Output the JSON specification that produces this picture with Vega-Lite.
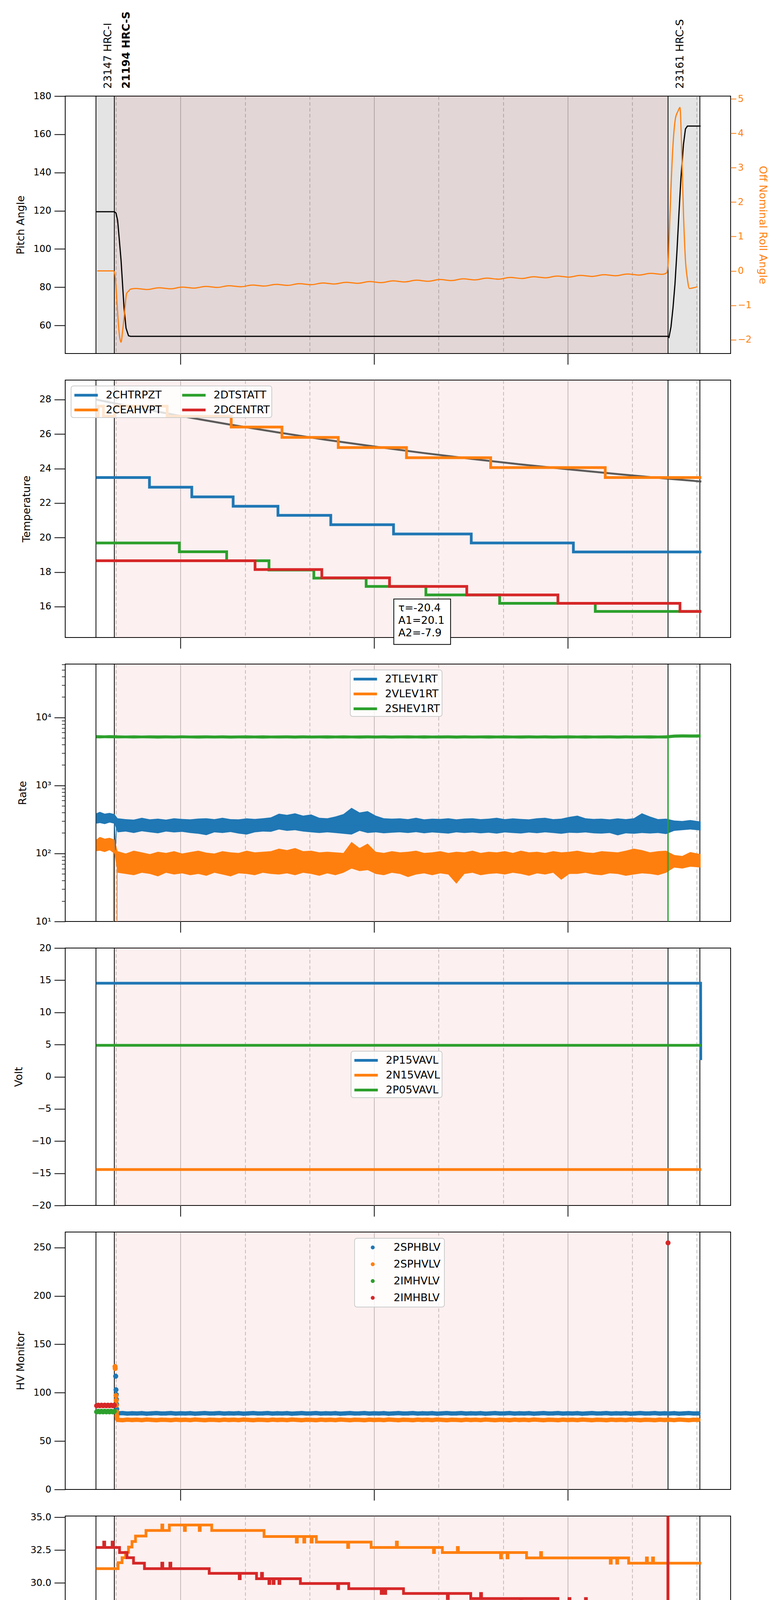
{
  "$schema": "https://vega.github.io/schema/vega-lite/v6.json",
  "padding": {"left": 30, "top": 28, "right": 5, "bottom": 5},
  "spacing": 68,
  "bounds": "flush",
  "resolve": {"scale": {"color": "independent"}, "legend": {"color": "independent"}},
  "datasets": {
    "spans": [
      {"t": 15.379, "t2": 34.097, "kind": "window"},
      {"t": 15.948, "t2": 33.11, "kind": "obs"}
    ],
    "obs": [
      {"t": 15.379, "label": "23147 HRC-I"},
      {"t": 15.948, "label": "21194 HRC-S"},
      {"t": 33.11, "label": "23161 HRC-S"},
      {"t": 34.097, "label": ""}
    ],
    "pitch": [
      {"t": 15.38, "v": 119.5}, {"t": 15.95, "v": 119.5}, {"t": 16.0, "v": 118.8}, {"t": 16.05, "v": 115},
      {"t": 16.095, "v": 106.4}, {"t": 16.157, "v": 94}, {"t": 16.203, "v": 81.6}, {"t": 16.249, "v": 69.2},
      {"t": 16.311, "v": 58.6}, {"t": 16.388, "v": 54.6}, {"t": 16.45, "v": 54.3}, {"t": 33.11, "v": 54.3},
      {"t": 33.14, "v": 53.8}, {"t": 33.202, "v": 59.3}, {"t": 33.264, "v": 69.2}, {"t": 33.325, "v": 81.6},
      {"t": 33.387, "v": 98.9}, {"t": 33.449, "v": 118.8}, {"t": 33.511, "v": 137.4}, {"t": 33.588, "v": 154.7},
      {"t": 33.65, "v": 162.8}, {"t": 33.711, "v": 164.3}, {"t": 34.12, "v": 164.3}
    ],
    "roll": [
      {"t": 15.416, "v": 0.0}, {"t": 15.925, "v": 0.0}, {"t": 15.972, "v": -0.14}, {"t": 16.018, "v": -0.73},
      {"t": 16.064, "v": -1.41}, {"t": 16.11, "v": -1.9}, {"t": 16.157, "v": -2.07}, {"t": 16.203, "v": -1.76},
      {"t": 16.265, "v": -1.21}, {"t": 16.327, "v": -0.66}, {"t": 16.388, "v": -0.59}, {"t": 16.45, "v": -0.53},
      {"t": 16.6, "v": -0.51}, {"t": 16.96, "v": -0.54}, {"t": 17.33, "v": -0.49}, {"t": 17.69, "v": -0.52},
      {"t": 18.05, "v": -0.47}, {"t": 18.42, "v": -0.5}, {"t": 18.78, "v": -0.45}, {"t": 19.14, "v": -0.48},
      {"t": 19.5, "v": -0.43}, {"t": 19.87, "v": -0.46}, {"t": 20.23, "v": -0.41}, {"t": 20.59, "v": -0.44},
      {"t": 20.96, "v": -0.39}, {"t": 21.32, "v": -0.42}, {"t": 21.68, "v": -0.37}, {"t": 22.05, "v": -0.4},
      {"t": 22.41, "v": -0.35}, {"t": 22.77, "v": -0.38}, {"t": 23.13, "v": -0.33}, {"t": 23.5, "v": -0.36},
      {"t": 23.86, "v": -0.31}, {"t": 24.22, "v": -0.34}, {"t": 24.59, "v": -0.29}, {"t": 24.95, "v": -0.32},
      {"t": 25.31, "v": -0.27}, {"t": 25.68, "v": -0.3}, {"t": 26.04, "v": -0.25}, {"t": 26.4, "v": -0.28},
      {"t": 26.76, "v": -0.23}, {"t": 27.13, "v": -0.26}, {"t": 27.49, "v": -0.21}, {"t": 27.85, "v": -0.24},
      {"t": 28.22, "v": -0.19}, {"t": 28.58, "v": -0.22}, {"t": 28.94, "v": -0.17}, {"t": 29.31, "v": -0.2},
      {"t": 29.67, "v": -0.15}, {"t": 30.03, "v": -0.18}, {"t": 30.39, "v": -0.13}, {"t": 30.76, "v": -0.16},
      {"t": 31.12, "v": -0.11}, {"t": 31.48, "v": -0.14}, {"t": 31.85, "v": -0.09}, {"t": 32.21, "v": -0.12},
      {"t": 32.57, "v": -0.07}, {"t": 32.93, "v": -0.1}, {"t": 33.063, "v": -0.06}, {"t": 33.109, "v": 0.17},
      {"t": 33.171, "v": 1.68}, {"t": 33.248, "v": 3.4}, {"t": 33.341, "v": 4.44}, {"t": 33.418, "v": 4.64},
      {"t": 33.48, "v": 4.75}, {"t": 33.526, "v": 3.75}, {"t": 33.588, "v": 1.68}, {"t": 33.65, "v": 0.31},
      {"t": 33.711, "v": -0.24}, {"t": 33.773, "v": -0.51}, {"t": 33.897, "v": -0.49}, {"t": 34.02, "v": -0.46}
    ],
    "temp": [
      {"s": "2CHTRPZT", "t": 15.385, "v": 23.48}, {"s": "2CHTRPZT", "t": 17.037, "v": 22.92}, {"s": "2CHTRPZT", "t": 18.349, "v": 22.36},
      {"s": "2CHTRPZT", "t": 19.631, "v": 21.82}, {"s": "2CHTRPZT", "t": 21.02, "v": 21.29}, {"s": "2CHTRPZT", "t": 22.657, "v": 20.75},
      {"s": "2CHTRPZT", "t": 24.602, "v": 20.21}, {"s": "2CHTRPZT", "t": 27.011, "v": 19.69}, {"s": "2CHTRPZT", "t": 30.176, "v": 19.17},
      {"s": "2CHTRPZT", "t": 34.143, "v": 19.17},
      {"s": "2CEAHVPT", "t": 15.385, "v": 27.03}, {"s": "2CEAHVPT", "t": 15.448, "v": 27.62}, {"s": "2CEAHVPT", "t": 15.61, "v": 27.03},
      {"s": "2CEAHVPT", "t": 15.958, "v": 27.62}, {"s": "2CEAHVPT", "t": 17.586, "v": 27.03}, {"s": "2CEAHVPT", "t": 19.571, "v": 26.41},
      {"s": "2CEAHVPT", "t": 21.144, "v": 25.81}, {"s": "2CEAHVPT", "t": 22.888, "v": 25.22}, {"s": "2CEAHVPT", "t": 25.003, "v": 24.63},
      {"s": "2CEAHVPT", "t": 27.613, "v": 24.06}, {"s": "2CEAHVPT", "t": 31.164, "v": 23.48}, {"s": "2CEAHVPT", "t": 34.143, "v": 23.48},
      {"s": "2DTSTATT", "t": 15.385, "v": 19.69}, {"s": "2DTSTATT", "t": 17.963, "v": 19.18}, {"s": "2DTSTATT", "t": 19.43, "v": 18.66},
      {"s": "2DTSTATT", "t": 20.742, "v": 18.12}, {"s": "2DTSTATT", "t": 22.132, "v": 17.65}, {"s": "2DTSTATT", "t": 23.753, "v": 17.17},
      {"s": "2DTSTATT", "t": 25.605, "v": 16.68}, {"s": "2DTSTATT", "t": 27.891, "v": 16.19}, {"s": "2DTSTATT", "t": 30.855, "v": 15.72},
      {"s": "2DTSTATT", "t": 34.143, "v": 15.72},
      {"s": "2DCENTRT", "t": 15.385, "v": 18.66}, {"s": "2DCENTRT", "t": 20.31, "v": 18.15}, {"s": "2DCENTRT", "t": 22.379, "v": 17.67},
      {"s": "2DCENTRT", "t": 24.478, "v": 17.17}, {"s": "2DCENTRT", "t": 26.872, "v": 16.68}, {"s": "2DCENTRT", "t": 29.697, "v": 16.19},
      {"s": "2DCENTRT", "t": 33.48, "v": 15.72}, {"s": "2DCENTRT", "t": 34.143, "v": 15.72}
    ],
    "fit": [
      {"t": 15.385, "v": 28.0}, {"t": 16.5, "v": 27.58}, {"t": 18.0, "v": 27.05}, {"t": 19.5, "v": 26.56},
      {"t": 21.0, "v": 26.1}, {"t": 22.5, "v": 25.67}, {"t": 24.0, "v": 25.28}, {"t": 25.5, "v": 24.91},
      {"t": 27.0, "v": 24.57}, {"t": 28.5, "v": 24.25}, {"t": 30.0, "v": 23.96}, {"t": 31.5, "v": 23.69},
      {"t": 33.0, "v": 23.43}, {"t": 34.143, "v": 23.25}
    ],
    "annbox": [{"t": 24.61, "t2": 26.37, "v": 16.44, "v2": 13.81}],
    "anntext": [{"t": 24.75, "v": 15.9, "label": ["τ=-20.4", "A1=20.1", "A2=-7.9"]}],
    "rate_band": [
      {"t": 15.39, "blo": 275, "bhi": 390, "olo": 108, "ohi": 160, "glo": 4950, "ghi": 5500},
      {"t": 15.5, "blo": 280, "bhi": 410, "olo": 110, "ohi": 175, "glo": 4930, "ghi": 5480},
      {"t": 15.65, "blo": 270, "bhi": 385, "olo": 105, "ohi": 165, "glo": 4960, "ghi": 5460},
      {"t": 15.8, "blo": 285, "bhi": 395, "olo": 112, "ohi": 170, "glo": 4940, "ghi": 5490},
      {"t": 15.95, "blo": 275, "bhi": 380, "olo": 100, "ohi": 160, "glo": 4950, "ghi": 5470},
      {"t": 16.05, "blo": 205, "bhi": 330, "olo": 52, "ohi": 108, "glo": 4920, "ghi": 5450},
      {"t": 16.3, "blo": 210, "bhi": 320, "olo": 50, "ohi": 100, "glo": 4950, "ghi": 5430},
      {"t": 16.55, "blo": 200, "bhi": 315, "olo": 48, "ohi": 110, "glo": 4910, "ghi": 5460},
      {"t": 16.8, "blo": 212, "bhi": 335, "olo": 52, "ohi": 104, "glo": 4940, "ghi": 5420},
      {"t": 17.05, "blo": 205, "bhi": 318, "olo": 50, "ohi": 98, "glo": 4920, "ghi": 5450},
      {"t": 17.3, "blo": 198, "bhi": 325, "olo": 46, "ohi": 106, "glo": 4900, "ghi": 5440},
      {"t": 17.55, "blo": 210, "bhi": 315, "olo": 52, "ohi": 102, "glo": 4930, "ghi": 5460},
      {"t": 17.8, "blo": 204, "bhi": 330, "olo": 49, "ohi": 108, "glo": 4910, "ghi": 5430},
      {"t": 18.05, "blo": 208, "bhi": 322, "olo": 51, "ohi": 100, "glo": 4940, "ghi": 5450},
      {"t": 18.3, "blo": 200, "bhi": 318, "olo": 48, "ohi": 105, "glo": 4920, "ghi": 5420},
      {"t": 18.55, "blo": 195, "bhi": 326, "olo": 50, "ohi": 110, "glo": 4900, "ghi": 5440},
      {"t": 18.8, "blo": 186, "bhi": 330, "olo": 47, "ohi": 103, "glo": 4930, "ghi": 5460},
      {"t": 19.05, "blo": 205, "bhi": 320, "olo": 52, "ohi": 100, "glo": 4910, "ghi": 5430},
      {"t": 19.3, "blo": 200, "bhi": 335, "olo": 49, "ohi": 108, "glo": 4920, "ghi": 5450},
      {"t": 19.55, "blo": 207, "bhi": 320, "olo": 46, "ohi": 104, "glo": 4900, "ghi": 5420},
      {"t": 19.8, "blo": 196, "bhi": 318, "olo": 51, "ohi": 102, "glo": 4930, "ghi": 5440},
      {"t": 20.05, "blo": 190, "bhi": 328, "olo": 50, "ohi": 110, "glo": 4910, "ghi": 5460},
      {"t": 20.3, "blo": 205, "bhi": 322, "olo": 48, "ohi": 104, "glo": 4920, "ghi": 5430},
      {"t": 20.55, "blo": 210, "bhi": 330, "olo": 52, "ohi": 106, "glo": 4900, "ghi": 5450},
      {"t": 20.8, "blo": 208, "bhi": 340, "olo": 50, "ohi": 108, "glo": 4930, "ghi": 5420},
      {"t": 21.05, "blo": 225, "bhi": 385, "olo": 49, "ohi": 118, "glo": 4910, "ghi": 5440},
      {"t": 21.3, "blo": 215, "bhi": 370, "olo": 51, "ohi": 112, "glo": 4920, "ghi": 5460},
      {"t": 21.55, "blo": 220, "bhi": 390, "olo": 48, "ohi": 120, "glo": 4900, "ghi": 5430},
      {"t": 21.8, "blo": 210, "bhi": 360, "olo": 52, "ohi": 108, "glo": 4930, "ghi": 5450},
      {"t": 22.05, "blo": 205, "bhi": 375, "olo": 50, "ohi": 110, "glo": 4910, "ghi": 5420},
      {"t": 22.3, "blo": 200, "bhi": 335, "olo": 47, "ohi": 104, "glo": 4920, "ghi": 5440},
      {"t": 22.55, "blo": 205, "bhi": 330, "olo": 51, "ohi": 106, "glo": 4900, "ghi": 5460},
      {"t": 22.8, "blo": 200, "bhi": 350, "olo": 48, "ohi": 104, "glo": 4930, "ghi": 5430},
      {"t": 23.05, "blo": 195, "bhi": 380, "olo": 52, "ohi": 102, "glo": 4910, "ghi": 5450},
      {"t": 23.3, "blo": 190, "bhi": 470, "olo": 60, "ohi": 148, "glo": 4920, "ghi": 5420},
      {"t": 23.55, "blo": 215, "bhi": 400, "olo": 55, "ohi": 120, "glo": 4900, "ghi": 5440},
      {"t": 23.8, "blo": 200, "bhi": 420, "olo": 57, "ohi": 140, "glo": 4930, "ghi": 5460},
      {"t": 24.05, "blo": 205, "bhi": 360, "olo": 50, "ohi": 106, "glo": 4910, "ghi": 5430},
      {"t": 24.3, "blo": 198, "bhi": 330, "olo": 48, "ohi": 102, "glo": 4920, "ghi": 5450},
      {"t": 24.55, "blo": 202, "bhi": 325, "olo": 52, "ohi": 108, "glo": 4900, "ghi": 5420},
      {"t": 24.8, "blo": 205, "bhi": 328, "olo": 50, "ohi": 104, "glo": 4930, "ghi": 5440},
      {"t": 25.05, "blo": 200, "bhi": 320, "olo": 45, "ohi": 106, "glo": 4910, "ghi": 5460},
      {"t": 25.3, "blo": 206, "bhi": 335, "olo": 49, "ohi": 110, "glo": 4920, "ghi": 5430},
      {"t": 25.55, "blo": 198, "bhi": 318, "olo": 51, "ohi": 102, "glo": 4900, "ghi": 5450},
      {"t": 25.8, "blo": 204, "bhi": 325, "olo": 48, "ohi": 104, "glo": 4930, "ghi": 5420},
      {"t": 26.05, "blo": 200, "bhi": 322, "olo": 51, "ohi": 108, "glo": 4910, "ghi": 5440},
      {"t": 26.3, "blo": 196, "bhi": 330, "olo": 49, "ohi": 102, "glo": 4920, "ghi": 5460},
      {"t": 26.55, "blo": 205, "bhi": 318, "olo": 36, "ohi": 106, "glo": 4900, "ghi": 5430},
      {"t": 26.8, "blo": 200, "bhi": 326, "olo": 50, "ohi": 104, "glo": 4930, "ghi": 5450},
      {"t": 27.05, "blo": 203, "bhi": 330, "olo": 52, "ohi": 110, "glo": 4910, "ghi": 5420},
      {"t": 27.3, "blo": 198, "bhi": 320, "olo": 48, "ohi": 102, "glo": 4920, "ghi": 5440},
      {"t": 27.55, "blo": 202, "bhi": 325, "olo": 50, "ohi": 106, "glo": 4900, "ghi": 5460},
      {"t": 27.8, "blo": 196, "bhi": 335, "olo": 51, "ohi": 104, "glo": 4930, "ghi": 5430},
      {"t": 28.05, "blo": 204, "bhi": 320, "olo": 49, "ohi": 108, "glo": 4910, "ghi": 5450},
      {"t": 28.3, "blo": 200, "bhi": 328, "olo": 52, "ohi": 102, "glo": 4920, "ghi": 5420},
      {"t": 28.55, "blo": 197, "bhi": 322, "olo": 50, "ohi": 110, "glo": 4900, "ghi": 5440},
      {"t": 28.8, "blo": 203, "bhi": 318, "olo": 47, "ohi": 104, "glo": 4930, "ghi": 5460},
      {"t": 29.05, "blo": 199, "bhi": 330, "olo": 51, "ohi": 106, "glo": 4910, "ghi": 5430},
      {"t": 29.3, "blo": 205, "bhi": 335, "olo": 49, "ohi": 102, "glo": 4920, "ghi": 5450},
      {"t": 29.55, "blo": 200, "bhi": 320, "olo": 52, "ohi": 108, "glo": 4900, "ghi": 5420},
      {"t": 29.8, "blo": 195, "bhi": 325, "olo": 41, "ohi": 104, "glo": 4930, "ghi": 5440},
      {"t": 30.05, "blo": 202, "bhi": 345, "olo": 50, "ohi": 106, "glo": 4910, "ghi": 5460},
      {"t": 30.3, "blo": 200, "bhi": 360, "olo": 50, "ohi": 110, "glo": 4920, "ghi": 5430},
      {"t": 30.55, "blo": 204, "bhi": 330, "olo": 52, "ohi": 104, "glo": 4900, "ghi": 5450},
      {"t": 30.8, "blo": 198, "bhi": 322, "olo": 49, "ohi": 102, "glo": 4930, "ghi": 5420},
      {"t": 31.05, "blo": 196, "bhi": 325, "olo": 48, "ohi": 108, "glo": 4910, "ghi": 5440},
      {"t": 31.3, "blo": 200, "bhi": 318, "olo": 51, "ohi": 106, "glo": 4920, "ghi": 5460},
      {"t": 31.55, "blo": 185, "bhi": 328, "olo": 50, "ohi": 104, "glo": 4900, "ghi": 5430},
      {"t": 31.8, "blo": 198, "bhi": 320, "olo": 47, "ohi": 110, "glo": 4930, "ghi": 5450},
      {"t": 32.05, "blo": 195, "bhi": 330, "olo": 49, "ohi": 118, "glo": 4910, "ghi": 5420},
      {"t": 32.3, "blo": 200, "bhi": 390, "olo": 51, "ohi": 112, "glo": 4920, "ghi": 5440},
      {"t": 32.55, "blo": 197, "bhi": 350, "olo": 50, "ohi": 104, "glo": 4900, "ghi": 5460},
      {"t": 32.8, "blo": 200, "bhi": 320, "olo": 48, "ohi": 108, "glo": 4930, "ghi": 5430},
      {"t": 33.05, "blo": 193, "bhi": 325, "olo": 52, "ohi": 110, "glo": 4910, "ghi": 5450},
      {"t": 33.3, "blo": 215, "bhi": 305, "olo": 62, "ohi": 95, "glo": 5050, "ghi": 5600},
      {"t": 33.55, "blo": 220, "bhi": 300, "olo": 60, "ohi": 92, "glo": 5080, "ghi": 5650},
      {"t": 33.8, "blo": 225, "bhi": 310, "olo": 64, "ohi": 105, "glo": 5060, "ghi": 5620},
      {"t": 34.12, "blo": 218, "bhi": 295, "olo": 62, "ohi": 98, "glo": 5070, "ghi": 5640}
    ],
    "rate_mid": [
      {"s": "2TLEV1RT", "t": 15.39, "v": 330}, {"s": "2TLEV1RT", "t": 15.95, "v": 330}, {"s": "2TLEV1RT", "t": 15.98, "v": 112},
      {"s": "2TLEV1RT", "t": 16.02, "v": 260}, {"s": "2TLEV1RT", "t": 34.12, "v": 255},
      {"s": "2VLEV1RT", "t": 15.39, "v": 135}, {"s": "2VLEV1RT", "t": 15.92, "v": 130}, {"s": "2VLEV1RT", "t": 15.925, "v": 1},
      {"s": "2VLEV1RT", "t": 16.03, "v": 1}, {"s": "2VLEV1RT", "t": 16.035, "v": 75}, {"s": "2VLEV1RT", "t": 34.12, "v": 80},
      {"s": "2SHEV1RT", "t": 15.39, "v": 5200}, {"s": "2SHEV1RT", "t": 33.1, "v": 5180}, {"s": "2SHEV1RT", "t": 33.105, "v": 1},
      {"s": "2SHEV1RT", "t": 33.115, "v": 1}, {"s": "2SHEV1RT", "t": 33.12, "v": 5300}, {"s": "2SHEV1RT", "t": 34.12, "v": 5300}
    ],
    "volt": [
      {"s": "2P15VAVL", "t": 15.385, "v": 14.54}, {"s": "2P15VAVL", "t": 34.12, "v": 14.54}, {"s": "2P15VAVL", "t": 34.125, "v": 2.6},
      {"s": "2N15VAVL", "t": 15.385, "v": -14.42}, {"s": "2N15VAVL", "t": 34.143, "v": -14.42},
      {"s": "2P05VAVL", "t": 15.385, "v": 4.88}, {"s": "2P05VAVL", "t": 34.143, "v": 4.88}
    ],
    "hv_main": [
      {"t": 16.05, "2SPHBLV": 78.6, "2SPHVLV": 71.9}, {"t": 16.2, "2SPHBLV": 78.9, "2SPHVLV": 71.6}, {"t": 16.35, "2SPHBLV": 78.4, "2SPHVLV": 72.1},
      {"t": 16.5, "2SPHBLV": 78.7, "2SPHVLV": 71.8}, {"t": 16.65, "2SPHBLV": 78.5, "2SPHVLV": 72.0}, {"t": 16.8, "2SPHBLV": 78.8, "2SPHVLV": 71.7},
      {"t": 16.95, "2SPHBLV": 78.3, "2SPHVLV": 72.2}, {"t": 17.1, "2SPHBLV": 78.6, "2SPHVLV": 71.9}, {"t": 17.25, "2SPHBLV": 78.9, "2SPHVLV": 71.6},
      {"t": 17.4, "2SPHBLV": 78.5, "2SPHVLV": 72.0}, {"t": 17.55, "2SPHBLV": 78.6, "2SPHVLV": 71.9}, {"t": 17.7, "2SPHBLV": 78.9, "2SPHVLV": 71.6},
      {"t": 17.85, "2SPHBLV": 78.4, "2SPHVLV": 72.1}, {"t": 18.0, "2SPHBLV": 78.7, "2SPHVLV": 71.8}, {"t": 18.15, "2SPHBLV": 78.5, "2SPHVLV": 72.0},
      {"t": 18.3, "2SPHBLV": 78.8, "2SPHVLV": 71.7}, {"t": 18.45, "2SPHBLV": 78.3, "2SPHVLV": 72.2}, {"t": 18.6, "2SPHBLV": 78.6, "2SPHVLV": 71.9},
      {"t": 18.75, "2SPHBLV": 78.9, "2SPHVLV": 71.6}, {"t": 18.9, "2SPHBLV": 78.5, "2SPHVLV": 72.0}, {"t": 19.05, "2SPHBLV": 78.6, "2SPHVLV": 71.9},
      {"t": 19.2, "2SPHBLV": 78.9, "2SPHVLV": 71.6}, {"t": 19.35, "2SPHBLV": 78.4, "2SPHVLV": 72.1}, {"t": 19.5, "2SPHBLV": 78.7, "2SPHVLV": 71.8},
      {"t": 19.65, "2SPHBLV": 78.5, "2SPHVLV": 72.0}, {"t": 19.8, "2SPHBLV": 78.8, "2SPHVLV": 71.7}, {"t": 19.95, "2SPHBLV": 78.3, "2SPHVLV": 72.2},
      {"t": 20.1, "2SPHBLV": 78.6, "2SPHVLV": 71.9}, {"t": 20.25, "2SPHBLV": 78.9, "2SPHVLV": 71.6}, {"t": 20.4, "2SPHBLV": 78.5, "2SPHVLV": 72.0},
      {"t": 20.55, "2SPHBLV": 78.6, "2SPHVLV": 71.9}, {"t": 20.7, "2SPHBLV": 78.9, "2SPHVLV": 71.6}, {"t": 20.85, "2SPHBLV": 78.4, "2SPHVLV": 72.1},
      {"t": 21.0, "2SPHBLV": 78.7, "2SPHVLV": 71.8}, {"t": 21.15, "2SPHBLV": 78.5, "2SPHVLV": 72.0}, {"t": 21.3, "2SPHBLV": 78.8, "2SPHVLV": 71.7},
      {"t": 21.45, "2SPHBLV": 78.3, "2SPHVLV": 72.2}, {"t": 21.6, "2SPHBLV": 78.6, "2SPHVLV": 71.9}, {"t": 21.75, "2SPHBLV": 78.9, "2SPHVLV": 71.6},
      {"t": 21.9, "2SPHBLV": 78.5, "2SPHVLV": 72.0}, {"t": 22.05, "2SPHBLV": 78.6, "2SPHVLV": 71.9}, {"t": 22.2, "2SPHBLV": 78.9, "2SPHVLV": 71.6},
      {"t": 22.35, "2SPHBLV": 78.4, "2SPHVLV": 72.1}, {"t": 22.5, "2SPHBLV": 78.7, "2SPHVLV": 71.8}, {"t": 22.65, "2SPHBLV": 78.5, "2SPHVLV": 72.0},
      {"t": 22.8, "2SPHBLV": 78.8, "2SPHVLV": 71.7}, {"t": 22.95, "2SPHBLV": 78.3, "2SPHVLV": 72.2}, {"t": 23.1, "2SPHBLV": 78.6, "2SPHVLV": 71.9},
      {"t": 23.25, "2SPHBLV": 78.9, "2SPHVLV": 71.6}, {"t": 23.4, "2SPHBLV": 78.5, "2SPHVLV": 72.0}, {"t": 23.55, "2SPHBLV": 78.6, "2SPHVLV": 71.9},
      {"t": 23.7, "2SPHBLV": 78.9, "2SPHVLV": 71.6}, {"t": 23.85, "2SPHBLV": 78.4, "2SPHVLV": 72.1}, {"t": 24.0, "2SPHBLV": 78.7, "2SPHVLV": 71.8},
      {"t": 24.15, "2SPHBLV": 78.5, "2SPHVLV": 72.0}, {"t": 24.3, "2SPHBLV": 78.8, "2SPHVLV": 71.7}, {"t": 24.45, "2SPHBLV": 78.3, "2SPHVLV": 72.2},
      {"t": 24.6, "2SPHBLV": 78.6, "2SPHVLV": 71.9}, {"t": 24.75, "2SPHBLV": 78.9, "2SPHVLV": 71.6}, {"t": 24.9, "2SPHBLV": 78.5, "2SPHVLV": 72.0},
      {"t": 25.05, "2SPHBLV": 78.6, "2SPHVLV": 71.9}, {"t": 25.2, "2SPHBLV": 78.9, "2SPHVLV": 71.6}, {"t": 25.35, "2SPHBLV": 78.4, "2SPHVLV": 72.1},
      {"t": 25.5, "2SPHBLV": 78.7, "2SPHVLV": 71.8}, {"t": 25.65, "2SPHBLV": 78.5, "2SPHVLV": 72.0}, {"t": 25.8, "2SPHBLV": 78.8, "2SPHVLV": 71.7},
      {"t": 25.95, "2SPHBLV": 78.3, "2SPHVLV": 72.2}, {"t": 26.1, "2SPHBLV": 78.6, "2SPHVLV": 71.9}, {"t": 26.25, "2SPHBLV": 78.9, "2SPHVLV": 71.6},
      {"t": 26.4, "2SPHBLV": 78.5, "2SPHVLV": 72.0}, {"t": 26.55, "2SPHBLV": 78.6, "2SPHVLV": 71.9}, {"t": 26.7, "2SPHBLV": 78.9, "2SPHVLV": 71.6},
      {"t": 26.85, "2SPHBLV": 78.4, "2SPHVLV": 72.1}, {"t": 27.0, "2SPHBLV": 78.7, "2SPHVLV": 71.8}, {"t": 27.15, "2SPHBLV": 78.5, "2SPHVLV": 72.0},
      {"t": 27.3, "2SPHBLV": 78.8, "2SPHVLV": 71.7}, {"t": 27.45, "2SPHBLV": 78.3, "2SPHVLV": 72.2}, {"t": 27.6, "2SPHBLV": 78.6, "2SPHVLV": 71.9},
      {"t": 27.75, "2SPHBLV": 78.9, "2SPHVLV": 71.6}, {"t": 27.9, "2SPHBLV": 78.5, "2SPHVLV": 72.0}, {"t": 28.05, "2SPHBLV": 78.6, "2SPHVLV": 71.9},
      {"t": 28.2, "2SPHBLV": 78.9, "2SPHVLV": 71.6}, {"t": 28.35, "2SPHBLV": 78.4, "2SPHVLV": 72.1}, {"t": 28.5, "2SPHBLV": 78.7, "2SPHVLV": 71.8},
      {"t": 28.65, "2SPHBLV": 78.5, "2SPHVLV": 72.0}, {"t": 28.8, "2SPHBLV": 78.8, "2SPHVLV": 71.7}, {"t": 28.95, "2SPHBLV": 78.3, "2SPHVLV": 72.2},
      {"t": 29.1, "2SPHBLV": 78.6, "2SPHVLV": 71.9}, {"t": 29.25, "2SPHBLV": 78.9, "2SPHVLV": 71.6}, {"t": 29.4, "2SPHBLV": 78.5, "2SPHVLV": 72.0},
      {"t": 29.55, "2SPHBLV": 78.6, "2SPHVLV": 71.9}, {"t": 29.7, "2SPHBLV": 78.9, "2SPHVLV": 71.6}, {"t": 29.85, "2SPHBLV": 78.4, "2SPHVLV": 72.1},
      {"t": 30.0, "2SPHBLV": 78.7, "2SPHVLV": 71.8}, {"t": 30.15, "2SPHBLV": 78.5, "2SPHVLV": 72.0}, {"t": 30.3, "2SPHBLV": 78.8, "2SPHVLV": 71.7},
      {"t": 30.45, "2SPHBLV": 78.3, "2SPHVLV": 72.2}, {"t": 30.6, "2SPHBLV": 78.6, "2SPHVLV": 71.9}, {"t": 30.75, "2SPHBLV": 78.9, "2SPHVLV": 71.6},
      {"t": 30.9, "2SPHBLV": 78.5, "2SPHVLV": 72.0}, {"t": 31.05, "2SPHBLV": 78.6, "2SPHVLV": 71.9}, {"t": 31.2, "2SPHBLV": 78.9, "2SPHVLV": 71.6},
      {"t": 31.35, "2SPHBLV": 78.4, "2SPHVLV": 72.1}, {"t": 31.5, "2SPHBLV": 78.7, "2SPHVLV": 71.8}, {"t": 31.65, "2SPHBLV": 78.5, "2SPHVLV": 72.0},
      {"t": 31.8, "2SPHBLV": 78.8, "2SPHVLV": 71.7}, {"t": 31.95, "2SPHBLV": 78.3, "2SPHVLV": 72.2}, {"t": 32.1, "2SPHBLV": 78.6, "2SPHVLV": 71.9},
      {"t": 32.25, "2SPHBLV": 78.9, "2SPHVLV": 71.6}, {"t": 32.4, "2SPHBLV": 78.5, "2SPHVLV": 72.0}, {"t": 32.55, "2SPHBLV": 78.6, "2SPHVLV": 71.9},
      {"t": 32.7, "2SPHBLV": 78.9, "2SPHVLV": 71.6}, {"t": 32.85, "2SPHBLV": 78.4, "2SPHVLV": 72.1}, {"t": 33.0, "2SPHBLV": 78.7, "2SPHVLV": 71.8},
      {"t": 33.15, "2SPHBLV": 78.5, "2SPHVLV": 72.0}, {"t": 33.3, "2SPHBLV": 78.8, "2SPHVLV": 71.7}, {"t": 33.45, "2SPHBLV": 78.3, "2SPHVLV": 72.2},
      {"t": 33.6, "2SPHBLV": 78.6, "2SPHVLV": 71.9}, {"t": 33.75, "2SPHBLV": 78.9, "2SPHVLV": 71.6}, {"t": 33.9, "2SPHBLV": 78.5, "2SPHVLV": 72.0},
      {"t": 34.05, "2SPHBLV": 78.6, "2SPHVLV": 71.9}
    ],
    "hv_extra": [
      {"s": "2SPHBLV", "t": 15.99, "v": 117}, {"s": "2SPHBLV", "t": 16.0, "v": 103}, {"s": "2SPHBLV", "t": 16.01, "v": 98},
      {"s": "2SPHBLV", "t": 16.015, "v": 93}, {"s": "2SPHBLV", "t": 16.02, "v": 88}, {"s": "2SPHBLV", "t": 16.025, "v": 83}, {"s": "2SPHBLV", "t": 16.03, "v": 79},
      {"s": "2SPHVLV", "t": 15.97, "v": 127}, {"s": "2SPHVLV", "t": 15.975, "v": 125}, {"s": "2SPHVLV", "t": 16.0, "v": 97},
      {"s": "2SPHVLV", "t": 16.005, "v": 92}, {"s": "2SPHVLV", "t": 16.01, "v": 87}, {"s": "2SPHVLV", "t": 16.02, "v": 80},
      {"s": "2SPHVLV", "t": 16.03, "v": 76}, {"s": "2SPHVLV", "t": 16.04, "v": 73},
      {"s": "2IMHVLV", "t": 15.4, "v": 80.2}, {"s": "2IMHVLV", "t": 15.45, "v": 80.8}, {"s": "2IMHVLV", "t": 15.5, "v": 80.2},
      {"s": "2IMHVLV", "t": 15.55, "v": 80.8}, {"s": "2IMHVLV", "t": 15.6, "v": 80.2}, {"s": "2IMHVLV", "t": 15.65, "v": 80.8},
      {"s": "2IMHVLV", "t": 15.7, "v": 80.2}, {"s": "2IMHVLV", "t": 15.75, "v": 80.8}, {"s": "2IMHVLV", "t": 15.8, "v": 80.2},
      {"s": "2IMHVLV", "t": 15.85, "v": 80.8}, {"s": "2IMHVLV", "t": 15.9, "v": 80.2}, {"s": "2IMHVLV", "t": 15.95, "v": 80.8},
      {"s": "2IMHBLV", "t": 15.4, "v": 86.5}, {"s": "2IMHBLV", "t": 15.45, "v": 87.1}, {"s": "2IMHBLV", "t": 15.5, "v": 86.5},
      {"s": "2IMHBLV", "t": 15.55, "v": 87.1}, {"s": "2IMHBLV", "t": 15.6, "v": 86.5}, {"s": "2IMHBLV", "t": 15.65, "v": 87.1},
      {"s": "2IMHBLV", "t": 15.7, "v": 86.5}, {"s": "2IMHBLV", "t": 15.75, "v": 87.1}, {"s": "2IMHBLV", "t": 15.8, "v": 86.5},
      {"s": "2IMHBLV", "t": 15.85, "v": 87.1}, {"s": "2IMHBLV", "t": 15.9, "v": 86.5}, {"s": "2IMHBLV", "t": 15.95, "v": 87.1},
      {"s": "2IMHBLV", "t": 33.11, "v": 254.8}
    ],
    "dtemp": [
      {"s": "2SPINATM", "t": 15.385, "v": 19.6}, {"s": "2SPINATM", "t": 19.754, "v": 18.94}, {"s": "2SPINATM", "t": 22.842, "v": 18.3},
      {"s": "2SPINATM", "t": 26.223, "v": 17.63}, {"s": "2SPINATM", "t": 30.315, "v": 16.98}, {"s": "2SPINATM", "t": 30.35, "v": 17.63},
      {"s": "2SPINATM", "t": 30.469, "v": 16.98}, {"s": "2SPINATM", "t": 34.143, "v": 16.98},
      {"s": "2SPHVATM", "t": 15.385, "v": 31.09}, {"s": "2SPHVATM", "t": 16.064, "v": 31.54}, {"s": "2SPHVATM", "t": 16.188, "v": 31.92},
      {"s": "2SPHVATM", "t": 16.296, "v": 32.33}, {"s": "2SPHVATM", "t": 16.388, "v": 32.73}, {"s": "2SPHVATM", "t": 16.496, "v": 33.15},
      {"s": "2SPHVATM", "t": 16.605, "v": 33.57}, {"s": "2SPHVATM", "t": 16.929, "v": 33.99}, {"s": "2SPHVATM", "t": 17.42, "v": 34.41},
      {"s": "2SPHVATM", "t": 17.45, "v": 33.99}, {"s": "2SPHVATM", "t": 17.654, "v": 34.41}, {"s": "2SPHVATM", "t": 18.12, "v": 33.99},
      {"s": "2SPHVATM", "t": 18.15, "v": 34.41}, {"s": "2SPHVATM", "t": 18.58, "v": 33.99}, {"s": "2SPHVATM", "t": 18.61, "v": 34.41},
      {"s": "2SPHVATM", "t": 18.967, "v": 33.99}, {"s": "2SPHVATM", "t": 20.588, "v": 33.53}, {"s": "2SPHVATM", "t": 21.59, "v": 33.11},
      {"s": "2SPHVATM", "t": 21.62, "v": 33.53}, {"s": "2SPHVATM", "t": 21.82, "v": 33.11}, {"s": "2SPHVATM", "t": 21.85, "v": 33.53},
      {"s": "2SPHVATM", "t": 22.05, "v": 33.11}, {"s": "2SPHVATM", "t": 22.08, "v": 33.53}, {"s": "2SPHVATM", "t": 22.209, "v": 33.11},
      {"s": "2SPHVATM", "t": 23.18, "v": 32.7}, {"s": "2SPHVATM", "t": 23.21, "v": 33.11}, {"s": "2SPHVATM", "t": 23.907, "v": 32.7},
      {"s": "2SPHVATM", "t": 24.69, "v": 33.11}, {"s": "2SPHVATM", "t": 24.72, "v": 32.7}, {"s": "2SPHVATM", "t": 25.84, "v": 32.31},
      {"s": "2SPHVATM", "t": 25.87, "v": 32.7}, {"s": "2SPHVATM", "t": 26.115, "v": 32.31}, {"s": "2SPHVATM", "t": 26.58, "v": 32.7},
      {"s": "2SPHVATM", "t": 26.61, "v": 32.31}, {"s": "2SPHVATM", "t": 27.92, "v": 31.9}, {"s": "2SPHVATM", "t": 27.95, "v": 32.31},
      {"s": "2SPHVATM", "t": 28.12, "v": 31.9}, {"s": "2SPHVATM", "t": 28.15, "v": 32.31}, {"s": "2SPHVATM", "t": 28.725, "v": 31.9},
      {"s": "2SPHVATM", "t": 29.16, "v": 32.31}, {"s": "2SPHVATM", "t": 29.19, "v": 31.9}, {"s": "2SPHVATM", "t": 31.32, "v": 31.5},
      {"s": "2SPHVATM", "t": 31.35, "v": 31.9}, {"s": "2SPHVATM", "t": 31.52, "v": 31.5}, {"s": "2SPHVATM", "t": 31.55, "v": 31.9},
      {"s": "2SPHVATM", "t": 31.889, "v": 31.5}, {"s": "2SPHVATM", "t": 32.44, "v": 31.9}, {"s": "2SPHVATM", "t": 32.47, "v": 31.5},
      {"s": "2SPHVATM", "t": 32.63, "v": 31.9}, {"s": "2SPHVATM", "t": 32.66, "v": 31.5}, {"s": "2SPHVATM", "t": 34.143, "v": 31.5},
      {"s": "2IMINATM", "t": 15.385, "v": 17.63}, {"s": "2IMINATM", "t": 15.447, "v": 18.27}, {"s": "2IMINATM", "t": 21.514, "v": 17.63},
      {"s": "2IMINATM", "t": 25.266, "v": 16.98}, {"s": "2IMINATM", "t": 29.0, "v": 16.35}, {"s": "2IMINATM", "t": 29.03, "v": 16.98},
      {"s": "2IMINATM", "t": 29.388, "v": 16.35}, {"s": "2IMINATM", "t": 34.143, "v": 16.35},
      {"s": "2IMHVATM", "t": 15.385, "v": 32.7}, {"s": "2IMHVATM", "t": 15.62, "v": 33.11}, {"s": "2IMHVATM", "t": 15.65, "v": 32.7},
      {"s": "2IMHVATM", "t": 15.88, "v": 33.11}, {"s": "2IMHVATM", "t": 15.91, "v": 32.7}, {"s": "2IMHVATM", "t": 16.11, "v": 32.31},
      {"s": "2IMHVATM", "t": 16.342, "v": 31.92}, {"s": "2IMHVATM", "t": 16.543, "v": 31.5}, {"s": "2IMHVATM", "t": 16.882, "v": 31.09},
      {"s": "2IMHVATM", "t": 17.42, "v": 31.5}, {"s": "2IMHVATM", "t": 17.45, "v": 31.09}, {"s": "2IMHVATM", "t": 17.67, "v": 31.5},
      {"s": "2IMHVATM", "t": 17.7, "v": 31.09}, {"s": "2IMHVATM", "t": 18.889, "v": 30.73}, {"s": "2IMHVATM", "t": 19.82, "v": 30.32},
      {"s": "2IMHVATM", "t": 19.85, "v": 30.73}, {"s": "2IMHVATM", "t": 20.356, "v": 30.32}, {"s": "2IMHVATM", "t": 20.51, "v": 30.73},
      {"s": "2IMHVATM", "t": 20.54, "v": 30.32}, {"s": "2IMHVATM", "t": 20.74, "v": 29.96}, {"s": "2IMHVATM", "t": 20.77, "v": 30.32},
      {"s": "2IMHVATM", "t": 20.87, "v": 29.96}, {"s": "2IMHVATM", "t": 20.9, "v": 30.32}, {"s": "2IMHVATM", "t": 21.05, "v": 29.96},
      {"s": "2IMHVATM", "t": 21.08, "v": 30.32}, {"s": "2IMHVATM", "t": 21.715, "v": 29.96}, {"s": "2IMHVATM", "t": 22.87, "v": 29.56},
      {"s": "2IMHVATM", "t": 22.9, "v": 29.96}, {"s": "2IMHVATM", "t": 23.213, "v": 29.56}, {"s": "2IMHVATM", "t": 24.22, "v": 29.2},
      {"s": "2IMHVATM", "t": 24.25, "v": 29.56}, {"s": "2IMHVATM", "t": 24.33, "v": 29.2}, {"s": "2IMHVATM", "t": 24.36, "v": 29.56},
      {"s": "2IMHVATM", "t": 24.911, "v": 29.2}, {"s": "2IMHVATM", "t": 26.27, "v": 28.81}, {"s": "2IMHVATM", "t": 26.3, "v": 29.2},
      {"s": "2IMHVATM", "t": 26.995, "v": 28.81}, {"s": "2IMHVATM", "t": 27.3, "v": 29.2}, {"s": "2IMHVATM", "t": 27.33, "v": 28.81},
      {"s": "2IMHVATM", "t": 28.54, "v": 28.46}, {"s": "2IMHVATM", "t": 28.57, "v": 28.81}, {"s": "2IMHVATM", "t": 29.697, "v": 28.46},
      {"s": "2IMHVATM", "t": 30.04, "v": 28.81}, {"s": "2IMHVATM", "t": 30.07, "v": 28.46}, {"s": "2IMHVATM", "t": 30.55, "v": 28.81},
      {"s": "2IMHVATM", "t": 30.58, "v": 28.46}, {"s": "2IMHVATM", "t": 32.43, "v": 28.08}, {"s": "2IMHVATM", "t": 32.46, "v": 28.46},
      {"s": "2IMHVATM", "t": 32.985, "v": 28.08}, {"s": "2IMHVATM", "t": 33.105, "v": 40}, {"s": "2IMHVATM", "t": 33.11, "v": 10},
      {"s": "2IMHVATM", "t": 33.115, "v": 28.08}, {"s": "2IMHVATM", "t": 34.02, "v": 28.46}, {"s": "2IMHVATM", "t": 34.143, "v": 28.46}
    ],
    "fea": [
      {"s": "2FHTRMZT", "t": 15.385, "v": 22.35}, {"s": "2FHTRMZT", "t": 15.46, "v": 22.95}, {"s": "2FHTRMZT", "t": 15.49, "v": 22.35},
      {"s": "2FHTRMZT", "t": 15.925, "v": 21.82}, {"s": "2FHTRMZT", "t": 16.88, "v": 20.72}, {"s": "2FHTRMZT", "t": 16.91, "v": 21.82},
      {"s": "2FHTRMZT", "t": 17.114, "v": 21.27}, {"s": "2FHTRMZT", "t": 17.963, "v": 20.7}, {"s": "2FHTRMZT", "t": 18.766, "v": 20.19},
      {"s": "2FHTRMZT", "t": 19.754, "v": 19.7}, {"s": "2FHTRMZT", "t": 20.758, "v": 19.17}, {"s": "2FHTRMZT", "t": 21.79, "v": 19.65},
      {"s": "2FHTRMZT", "t": 21.82, "v": 19.17}, {"s": "2FHTRMZT", "t": 21.931, "v": 18.66}, {"s": "2FHTRMZT", "t": 22.98, "v": 18.15},
      {"s": "2FHTRMZT", "t": 23.01, "v": 18.66}, {"s": "2FHTRMZT", "t": 23.321, "v": 18.14}, {"s": "2FHTRMZT", "t": 24.448, "v": 16.2},
      {"s": "2FHTRMZT", "t": 24.48, "v": 18.14}, {"s": "2FHTRMZT", "t": 24.957, "v": 17.65}, {"s": "2FHTRMZT", "t": 25.605, "v": 18.66},
      {"s": "2FHTRMZT", "t": 25.635, "v": 17.65}, {"s": "2FHTRMZT", "t": 26.609, "v": 17.16}, {"s": "2FHTRMZT", "t": 26.64, "v": 17.65},
      {"s": "2FHTRMZT", "t": 26.92, "v": 19.2}, {"s": "2FHTRMZT", "t": 26.95, "v": 17.65}, {"s": "2FHTRMZT", "t": 27.072, "v": 17.16},
      {"s": "2FHTRMZT", "t": 28.817, "v": 16.17}, {"s": "2FHTRMZT", "t": 28.85, "v": 17.16}, {"s": "2FHTRMZT", "t": 29.82, "v": 16.7},
      {"s": "2FHTRMZT", "t": 29.85, "v": 17.16}, {"s": "2FHTRMZT", "t": 29.929, "v": 16.68}, {"s": "2FHTRMZT", "t": 30.345, "v": 17.16},
      {"s": "2FHTRMZT", "t": 30.375, "v": 16.68}, {"s": "2FHTRMZT", "t": 31.056, "v": 18.7}, {"s": "2FHTRMZT", "t": 31.086, "v": 16.68},
      {"s": "2FHTRMZT", "t": 33.279, "v": 16.2}, {"s": "2FHTRMZT", "t": 33.31, "v": 16.68}, {"s": "2FHTRMZT", "t": 34.143, "v": 16.68},
      {"s": "2FRADPYT", "t": 15.385, "v": 18.16}, {"s": "2FRADPYT", "t": 15.647, "v": 17.66}, {"s": "2FRADPYT", "t": 16.466, "v": 17.18},
      {"s": "2FRADPYT", "t": 16.882, "v": 16.69}, {"s": "2FRADPYT", "t": 17.438, "v": 16.2}, {"s": "2FRADPYT", "t": 18.117, "v": 15.72},
      {"s": "2FRADPYT", "t": 18.889, "v": 15.26}, {"s": "2FRADPYT", "t": 19.754, "v": 14.79}, {"s": "2FRADPYT", "t": 20.758, "v": 14.32},
      {"s": "2FRADPYT", "t": 21.931, "v": 13.86}, {"s": "2FRADPYT", "t": 23.321, "v": 13.42}, {"s": "2FRADPYT", "t": 25.065, "v": 12.98},
      {"s": "2FRADPYT", "t": 27.196, "v": 12.53}, {"s": "2FRADPYT", "t": 30.114, "v": 12.08}, {"s": "2FRADPYT", "t": 33.711, "v": 12.53},
      {"s": "2FRADPYT", "t": 33.943, "v": 12.98}, {"s": "2FRADPYT", "t": 34.143, "v": 12.98},
      {"s": "2FEPRATM", "t": 15.385, "v": 24.3}, {"s": "2FEPRATM", "t": 16.63, "v": 23.9}, {"s": "2FEPRATM", "t": 16.67, "v": 24.3},
      {"s": "2FEPRATM", "t": 16.882, "v": 23.85}, {"s": "2FEPRATM", "t": 18.195, "v": 23.15}, {"s": "2FEPRATM", "t": 19.476, "v": 22.4},
      {"s": "2FEPRATM", "t": 20.974, "v": 21.69}, {"s": "2FEPRATM", "t": 22.78, "v": 20.98}, {"s": "2FEPRATM", "t": 25.065, "v": 20.29},
      {"s": "2FEPRATM", "t": 25.1, "v": 20.98}, {"s": "2FEPRATM", "t": 25.219, "v": 20.29}, {"s": "2FEPRATM", "t": 28.694, "v": 19.61},
      {"s": "2FEPRATM", "t": 33.105, "v": 30}, {"s": "2FEPRATM", "t": 33.11, "v": 17.5}, {"s": "2FEPRATM", "t": 33.115, "v": 19.61},
      {"s": "2FEPRATM", "t": 34.143, "v": 19.61},
      {"s": "2FE00ATM", "t": 15.385, "v": 22.02}, {"s": "2FE00ATM", "t": 15.493, "v": 21.72}, {"s": "2FE00ATM", "t": 15.62, "v": 22.05},
      {"s": "2FE00ATM", "t": 15.65, "v": 21.72}, {"s": "2FE00ATM", "t": 15.8, "v": 22.05}, {"s": "2FE00ATM", "t": 15.83, "v": 21.72},
      {"s": "2FE00ATM", "t": 16.543, "v": 21.05}, {"s": "2FE00ATM", "t": 16.573, "v": 21.72}, {"s": "2FE00ATM", "t": 16.65, "v": 21.0},
      {"s": "2FE00ATM", "t": 16.68, "v": 21.72}, {"s": "2FE00ATM", "t": 16.775, "v": 21.05}, {"s": "2FE00ATM", "t": 16.805, "v": 21.72},
      {"s": "2FE00ATM", "t": 16.882, "v": 21.42}, {"s": "2FE00ATM", "t": 17.01, "v": 21.05}, {"s": "2FE00ATM", "t": 17.04, "v": 21.42},
      {"s": "2FE00ATM", "t": 17.2, "v": 21.8}, {"s": "2FE00ATM", "t": 17.23, "v": 21.42}, {"s": "2FE00ATM", "t": 17.423, "v": 21.1},
      {"s": "2FE00ATM", "t": 17.75, "v": 20.65}, {"s": "2FE00ATM", "t": 17.78, "v": 21.1}, {"s": "2FE00ATM", "t": 18.04, "v": 20.8},
      {"s": "2FE00ATM", "t": 18.24, "v": 21.0}, {"s": "2FE00ATM", "t": 18.27, "v": 20.8}, {"s": "2FE00ATM", "t": 18.704, "v": 20.48},
      {"s": "2FE00ATM", "t": 18.8, "v": 19.9}, {"s": "2FE00ATM", "t": 18.83, "v": 20.48}, {"s": "2FE00ATM", "t": 19.14, "v": 20.9},
      {"s": "2FE00ATM", "t": 19.17, "v": 20.48}, {"s": "2FE00ATM", "t": 19.353, "v": 20.19}, {"s": "2FE00ATM", "t": 20.0, "v": 20.5},
      {"s": "2FE00ATM", "t": 20.03, "v": 20.19}, {"s": "2FE00ATM", "t": 20.17, "v": 19.25}, {"s": "2FE00ATM", "t": 20.2, "v": 20.19},
      {"s": "2FE00ATM", "t": 20.279, "v": 19.89}, {"s": "2FE00ATM", "t": 20.897, "v": 19.59}, {"s": "2FE00ATM", "t": 21.27, "v": 20.2},
      {"s": "2FE00ATM", "t": 21.3, "v": 19.59}, {"s": "2FE00ATM", "t": 21.67, "v": 19.0}, {"s": "2FE00ATM", "t": 21.7, "v": 19.59},
      {"s": "2FE00ATM", "t": 21.792, "v": 19.29}, {"s": "2FE00ATM", "t": 22.49, "v": 19.6}, {"s": "2FE00ATM", "t": 22.52, "v": 19.29},
      {"s": "2FE00ATM", "t": 22.718, "v": 18.99}, {"s": "2FE00ATM", "t": 23.38, "v": 19.3}, {"s": "2FE00ATM", "t": 23.41, "v": 18.99},
      {"s": "2FE00ATM", "t": 23.753, "v": 18.69}, {"s": "2FE00ATM", "t": 23.89, "v": 18.4}, {"s": "2FE00ATM", "t": 23.92, "v": 18.69},
      {"s": "2FE00ATM", "t": 24.11, "v": 19.3}, {"s": "2FE00ATM", "t": 24.14, "v": 18.69}, {"s": "2FE00ATM", "t": 24.68, "v": 18.4},
      {"s": "2FE00ATM", "t": 24.71, "v": 18.69}, {"s": "2FE00ATM", "t": 24.988, "v": 18.39}, {"s": "2FE00ATM", "t": 25.45, "v": 19.0},
      {"s": "2FE00ATM", "t": 25.48, "v": 18.39}, {"s": "2FE00ATM", "t": 25.99, "v": 17.9}, {"s": "2FE00ATM", "t": 26.02, "v": 18.39},
      {"s": "2FE00ATM", "t": 26.609, "v": 18.1}, {"s": "2FE00ATM", "t": 27.27, "v": 18.4}, {"s": "2FE00ATM", "t": 27.3, "v": 18.1},
      {"s": "2FE00ATM", "t": 28.2, "v": 17.9}, {"s": "2FE00ATM", "t": 28.23, "v": 18.1}, {"s": "2FE00ATM", "t": 28.617, "v": 17.83},
      {"s": "2FE00ATM", "t": 29.05, "v": 18.4}, {"s": "2FE00ATM", "t": 29.08, "v": 17.83}, {"s": "2FE00ATM", "t": 29.5, "v": 16.9},
      {"s": "2FE00ATM", "t": 29.53, "v": 17.83}, {"s": "2FE00ATM", "t": 30.55, "v": 17.0}, {"s": "2FE00ATM", "t": 30.58, "v": 17.83},
      {"s": "2FE00ATM", "t": 30.932, "v": 17.53}, {"s": "2FE00ATM", "t": 31.52, "v": 17.9}, {"s": "2FE00ATM", "t": 31.55, "v": 17.53},
      {"s": "2FE00ATM", "t": 31.78, "v": 17.2}, {"s": "2FE00ATM", "t": 31.81, "v": 17.53}, {"s": "2FE00ATM", "t": 32.17, "v": 17.9},
      {"s": "2FE00ATM", "t": 32.2, "v": 17.53}, {"s": "2FE00ATM", "t": 33.105, "v": 17.53}, {"s": "2FE00ATM", "t": 33.107, "v": 8},
      {"s": "2FE00ATM", "t": 33.113, "v": 17.53}, {"s": "2FE00ATM", "t": 34.143, "v": 17.53}
    ]
  },
  "vconcat": [
    {
      "width": 1704, "height": 659,
      "encoding": {"x": {"field": "t", "type": "quantitative", "title": null, "scale": {"domain": [14.426, 35.05], "nice": false, "zero": false}, "axis": {"values": [16, 18, 20, 22, 24, 26, 28, 30, 32, 34], "labels": false, "domain": false, "grid": true, "gridColor": "#b0b0b0", "gridWidth": 1.5, "gridDash": {"condition": {"test": "datum.value % 6 == 0", "value": []}, "value": [9, 6]}, "tickColor": "black", "tickWidth": 2, "tickSize": {"condition": {"test": "datum.value % 6 == 0", "value": 28}, "value": 0}}}},
      "layer": [
        {"layer": [
          {"data": {"name": "spans"}, "transform": [{"filter": "datum.kind == 'window'"}], "mark": {"type": "rect", "color": "black", "opacity": 0.105}, "encoding": {"x2": {"field": "t2"}}},
          {"data": {"name": "spans"}, "transform": [{"filter": "datum.kind == 'obs'"}], "mark": {"type": "rect", "color": "#d62728", "opacity": 0.07}, "encoding": {"x2": {"field": "t2"}}},
          {"data": {"name": "obs"}, "mark": {"type": "rule", "color": "black", "strokeWidth": 2}, "encoding": {}},
          {"data": {"name": "obs"}, "transform": [{"filter": "datum.label == '23147 HRC-I' || datum.label == '23161 HRC-S'"}], "mark": {"type": "text", "angle": 270, "align": "left", "baseline": "middle", "dx": 19, "dy": 31, "fontSize": 27, "color": "black"}, "encoding": {"y": {"datum": 180, "type": "quantitative", "title": "Pitch Angle", "scale": {"domain": [45.3, 180], "nice": false, "zero": false}}, "text": {"field": "label"}}},
          {"data": {"name": "obs"}, "transform": [{"filter": "datum.label == '21194 HRC-S'"}], "mark": {"type": "text", "angle": 270, "align": "left", "baseline": "middle", "dx": 19, "dy": 31, "fontSize": 27, "fontWeight": "bold", "color": "black"}, "encoding": {"y": {"datum": 180, "type": "quantitative", "title": "Pitch Angle", "scale": {"domain": [45.3, 180], "nice": false, "zero": false}}, "text": {"field": "label"}}},
          {"data": {"name": "pitch"}, "mark": {"type": "line", "color": "black", "strokeWidth": 3}, "encoding": {"y": {"field": "v", "type": "quantitative", "title": "Pitch Angle", "scale": {"domain": [45.3, 180], "nice": false, "zero": false}, "axis": {"values": [60, 80, 100, 120, 140, 160, 180]}}}}
        ]},
        {"data": {"name": "roll"}, "mark": {"type": "line", "color": "#ff7f0e", "strokeWidth": 3, "interpolate": "monotone"}, "encoding": {"y": {"field": "v", "type": "quantitative", "title": "Off Nominal Roll Angle", "scale": {"domain": [-2.4, 5.08], "nice": false, "zero": false}, "axis": {"orient": "right", "values": [-2, -1, 0, 1, 2, 3, 4, 5], "labelColor": "#ff7f0e", "tickColor": "#ff7f0e", "titleColor": "#ff7f0e", "tickSize": 14, "labelPadding": 4, "titlePadding": 14}}}}
      ],
      "resolve": {"scale": {"y": "independent"}}
    },
    {
      "width": 1704, "height": 659,
      "encoding": {"x": {"field": "t", "type": "quantitative", "title": null, "scale": {"domain": [14.426, 35.05], "nice": false, "zero": false}, "axis": {"values": [16, 18, 20, 22, 24, 26, 28, 30, 32, 34], "labels": false, "domain": false, "grid": true, "gridColor": "#b0b0b0", "gridWidth": 1.5, "gridDash": {"condition": {"test": "datum.value % 6 == 0", "value": []}, "value": [9, 6]}, "tickColor": "black", "tickWidth": 2, "tickSize": {"condition": {"test": "datum.value % 6 == 0", "value": 28}, "value": 0}}}},
      "layer": [
        {"data": {"name": "spans"}, "transform": [{"filter": "datum.kind == 'obs'"}], "mark": {"type": "rect", "color": "#d62728", "opacity": 0.07}, "encoding": {"x2": {"field": "t2"}}},
        {"data": {"name": "obs"}, "mark": {"type": "rule", "color": "black", "strokeWidth": 2}, "encoding": {}},
        {"data": {"name": "fit"}, "mark": {"type": "line", "color": "#4a4a4a", "strokeWidth": 5, "opacity": 0.9, "interpolate": "monotone"}, "encoding": {"y": {"field": "v", "type": "quantitative", "title": "Temperature", "scale": {"domain": [14.21, 29.13], "nice": false, "zero": false}, "axis": {"values": [16, 18, 20, 22, 24, 26, 28]}}}},
        {"data": {"name": "temp"}, "mark": {"type": "line", "interpolate": "step-after", "strokeWidth": 7}, "encoding": {"y": {"field": "v", "type": "quantitative", "title": "Temperature", "scale": {"domain": [14.21, 29.13], "nice": false, "zero": false}, "axis": {"values": [16, 18, 20, 22, 24, 26, 28]}}, "color": {"field": "s", "type": "nominal", "title": null, "scale": {"domain": ["2CHTRPZT", "2CEAHVPT", "2DTSTATT", "2DCENTRT"], "range": ["#1f77b4", "#ff7f0e", "#2ca02c", "#d62728"]}, "legend": {"columns": 2, "legendX": 15, "legendY": 15, "columnPadding": 37}}}},
        {"data": {"name": "annbox"}, "mark": {"type": "rect", "fill": "white", "stroke": "black", "strokeWidth": 2}, "encoding": {"x2": {"field": "t2"}, "y": {"field": "v", "type": "quantitative", "title": "Temperature", "scale": {"domain": [14.21, 29.13], "nice": false, "zero": false}}, "y2": {"field": "v2"}}},
        {"data": {"name": "anntext"}, "mark": {"type": "text", "align": "left", "baseline": "middle", "fontSize": 27, "lineHeight": 32, "color": "black"}, "encoding": {"y": {"field": "v", "type": "quantitative", "title": "Temperature", "scale": {"domain": [14.21, 29.13], "nice": false, "zero": false}}, "text": {"field": "label"}}}
      ]
    },
    {
      "width": 1704, "height": 659,
      "encoding": {"x": {"field": "t", "type": "quantitative", "title": null, "scale": {"domain": [14.426, 35.05], "nice": false, "zero": false}, "axis": {"values": [16, 18, 20, 22, 24, 26, 28, 30, 32, 34], "labels": false, "domain": false, "grid": true, "gridColor": "#b0b0b0", "gridWidth": 1.5, "gridDash": {"condition": {"test": "datum.value % 6 == 0", "value": []}, "value": [9, 6]}, "tickColor": "black", "tickWidth": 2, "tickSize": {"condition": {"test": "datum.value % 6 == 0", "value": 28}, "value": 0}}}},
      "layer": [
        {"data": {"name": "spans"}, "transform": [{"filter": "datum.kind == 'obs'"}], "mark": {"type": "rect", "color": "#d62728", "opacity": 0.07}, "encoding": {"x2": {"field": "t2"}}},
        {"data": {"name": "obs"}, "mark": {"type": "rule", "color": "black", "strokeWidth": 2}, "encoding": {}},
        {"data": {"name": "rate_band"}, "mark": {"type": "area", "color": "#1f77b4", "opacity": 1}, "encoding": {"y": {"field": "blo", "type": "quantitative", "title": "Rate", "scale": {"type": "log", "domain": [10, 61000], "nice": false}}, "y2": {"field": "bhi"}}},
        {"data": {"name": "rate_band"}, "mark": {"type": "area", "color": "#ff7f0e", "opacity": 1}, "encoding": {"y": {"field": "olo", "type": "quantitative", "title": "Rate", "scale": {"type": "log", "domain": [10, 61000], "nice": false}}, "y2": {"field": "ohi"}}},
        {"data": {"name": "rate_band"}, "mark": {"type": "area", "color": "#2ca02c", "opacity": 1}, "encoding": {"y": {"field": "glo", "type": "quantitative", "title": "Rate", "scale": {"type": "log", "domain": [10, 61000], "nice": false}}, "y2": {"field": "ghi"}}},
        {"data": {"name": "rate_mid"}, "mark": {"type": "line", "strokeWidth": 2, "clip": true}, "encoding": {"y": {"field": "v", "type": "quantitative", "title": "Rate", "scale": {"type": "log", "domain": [10, 61000], "nice": false}, "axis": {"values": [10, 20, 30, 40, 50, 60, 70, 80, 90, 100, 200, 300, 400, 500, 600, 700, 800, 900, 1000, 2000, 3000, 4000, 5000, 6000, 7000, 8000, 9000, 10000, 20000, 30000, 40000, 50000, 60000], "labelOverlap": false, "labelExpr": "datum.value == 10 ? '10¹' : datum.value == 100 ? '10²' : datum.value == 1000 ? '10³' : datum.value == 10000 ? '10⁴' : ''", "tickSize": {"condition": {"test": "indexof([10, 100, 1000, 10000], datum.value) >= 0", "value": 28}, "value": 9}, "tickWidth": {"condition": {"test": "indexof([10, 100, 1000, 10000], datum.value) >= 0", "value": 2}, "value": 1.5}}}, "color": {"field": "s", "type": "nominal", "title": null, "scale": {"domain": ["2TLEV1RT", "2VLEV1RT", "2SHEV1RT"], "range": ["#1f77b4", "#ff7f0e", "#2ca02c"]}, "legend": {"legendX": 730, "legendY": 15}}}}
      ]
    },
    {
      "width": 1704, "height": 659,
      "encoding": {"x": {"field": "t", "type": "quantitative", "title": null, "scale": {"domain": [14.426, 35.05], "nice": false, "zero": false}, "axis": {"values": [16, 18, 20, 22, 24, 26, 28, 30, 32, 34], "labels": false, "domain": false, "grid": true, "gridColor": "#b0b0b0", "gridWidth": 1.5, "gridDash": {"condition": {"test": "datum.value % 6 == 0", "value": []}, "value": [9, 6]}, "tickColor": "black", "tickWidth": 2, "tickSize": {"condition": {"test": "datum.value % 6 == 0", "value": 28}, "value": 0}}}},
      "layer": [
        {"data": {"name": "spans"}, "transform": [{"filter": "datum.kind == 'obs'"}], "mark": {"type": "rect", "color": "#d62728", "opacity": 0.07}, "encoding": {"x2": {"field": "t2"}}},
        {"data": {"name": "obs"}, "mark": {"type": "rule", "color": "black", "strokeWidth": 2}, "encoding": {}},
        {"data": {"name": "volt"}, "mark": {"type": "line", "strokeWidth": 7, "clip": true}, "encoding": {"y": {"field": "v", "type": "quantitative", "title": "Volt", "scale": {"domain": [-20, 20], "nice": false, "zero": false}, "axis": {"values": [-20, -15, -10, -5, 0, 5, 10, 15, 20]}}, "color": {"field": "s", "type": "nominal", "title": null, "scale": {"domain": ["2P15VAVL", "2N15VAVL", "2P05VAVL"], "range": ["#1f77b4", "#ff7f0e", "#2ca02c"]}, "legend": {"legendX": 732, "legendY": 264}}}}
      ]
    },
    {
      "width": 1704, "height": 659,
      "encoding": {"x": {"field": "t", "type": "quantitative", "title": null, "scale": {"domain": [14.426, 35.05], "nice": false, "zero": false}, "axis": {"values": [16, 18, 20, 22, 24, 26, 28, 30, 32, 34], "labels": false, "domain": false, "grid": true, "gridColor": "#b0b0b0", "gridWidth": 1.5, "gridDash": {"condition": {"test": "datum.value % 6 == 0", "value": []}, "value": [9, 6]}, "tickColor": "black", "tickWidth": 2, "tickSize": {"condition": {"test": "datum.value % 6 == 0", "value": 28}, "value": 0}}}},
      "layer": [
        {"data": {"name": "spans"}, "transform": [{"filter": "datum.kind == 'obs'"}], "mark": {"type": "rect", "color": "#d62728", "opacity": 0.07}, "encoding": {"x2": {"field": "t2"}}},
        {"data": {"name": "obs"}, "mark": {"type": "rule", "color": "black", "strokeWidth": 2}, "encoding": {}},
        {"data": {"name": "hv_main"}, "transform": [{"fold": ["2SPHBLV", "2SPHVLV"], "as": ["s", "v"]}], "mark": {"type": "line", "strokeWidth": 11, "strokeCap": "round"}, "encoding": {"y": {"field": "v", "type": "quantitative", "title": "HV Monitor", "scale": {"domain": [0, 266], "nice": false, "zero": false}, "axis": {"values": [0, 50, 100, 150, 200, 250]}}, "stroke": {"field": "s", "type": "nominal", "scale": {"domain": ["2SPHBLV", "2SPHVLV"], "range": ["#1f77b4", "#ff7f0e"]}, "legend": null}}},
        {"data": {"name": "hv_main"}, "transform": [{"fold": ["2SPHBLV", "2SPHVLV"], "as": ["s", "v"]}], "mark": {"type": "circle", "size": 120, "opacity": 1}, "encoding": {"y": {"field": "v", "type": "quantitative", "title": "HV Monitor", "scale": {"domain": [0, 266], "nice": false, "zero": false}, "axis": {"values": [0, 50, 100, 150, 200, 250]}}, "color": {"field": "s", "type": "nominal", "title": null, "scale": {"domain": ["2SPHBLV", "2SPHVLV", "2IMHVLV", "2IMHBLV"], "range": ["#1f77b4", "#ff7f0e", "#2ca02c", "#d62728"]}, "legend": {"legendX": 741, "legendY": 16, "symbolType": "circle", "symbolSize": 100, "symbolStrokeWidth": 0, "padding": 10, "rowPadding": 15, "symbolOffset": 23, "labelOffset": 40}}}},
        {"data": {"name": "hv_extra"}, "mark": {"type": "circle", "size": 170, "opacity": 1}, "encoding": {"y": {"field": "v", "type": "quantitative", "title": "HV Monitor", "scale": {"domain": [0, 266], "nice": false, "zero": false}, "axis": {"values": [0, 50, 100, 150, 200, 250]}}, "color": {"field": "s", "type": "nominal", "title": null, "scale": {"domain": ["2SPHBLV", "2SPHVLV", "2IMHVLV", "2IMHBLV"], "range": ["#1f77b4", "#ff7f0e", "#2ca02c", "#d62728"]}, "legend": {"legendX": 741, "legendY": 16, "symbolType": "circle", "symbolSize": 100, "symbolStrokeWidth": 0, "padding": 10, "rowPadding": 15, "symbolOffset": 23, "labelOffset": 40}}}}
      ]
    },
    {
      "width": 1704, "height": 659,
      "encoding": {"x": {"field": "t", "type": "quantitative", "title": null, "scale": {"domain": [14.426, 35.05], "nice": false, "zero": false}, "axis": {"values": [16, 18, 20, 22, 24, 26, 28, 30, 32, 34], "labels": false, "domain": false, "grid": true, "gridColor": "#b0b0b0", "gridWidth": 1.5, "gridDash": {"condition": {"test": "datum.value % 6 == 0", "value": []}, "value": [9, 6]}, "tickColor": "black", "tickWidth": 2, "tickSize": {"condition": {"test": "datum.value % 6 == 0", "value": 28}, "value": 0}}}},
      "layer": [
        {"data": {"name": "spans"}, "transform": [{"filter": "datum.kind == 'obs'"}], "mark": {"type": "rect", "color": "#d62728", "opacity": 0.07}, "encoding": {"x2": {"field": "t2"}}},
        {"data": {"name": "obs"}, "mark": {"type": "rule", "color": "black", "strokeWidth": 2}, "encoding": {}},
        {"data": {"name": "dtemp"}, "mark": {"type": "line", "interpolate": "step-after", "strokeWidth": 7, "clip": true}, "encoding": {"y": {"field": "v", "type": "quantitative", "title": "Detector Temp", "scale": {"domain": [15.51, 35.09], "nice": false, "zero": false}, "axis": {"values": [17.5, 20, 22.5, 25, 27.5, 30, 32.5, 35], "format": ".1f"}}, "color": {"field": "s", "type": "nominal", "title": null, "scale": {"domain": ["2SPINATM", "2SPHVATM", "2IMINATM", "2IMHVATM"], "range": ["#1f77b4", "#ff7f0e", "#2ca02c", "#d62728"]}, "legend": {"legendX": 730, "legendY": 243}}}}
      ]
    },
    {
      "width": 1704, "height": 659,
      "encoding": {"x": {"field": "t", "type": "quantitative", "title": "2020-02-18 (049)", "scale": {"domain": [14.426, 35.05], "nice": false, "zero": false}, "axis": {"values": [16, 18, 20, 22, 24, 26, 28, 30, 32, 34], "domain": false, "grid": true, "gridColor": "#b0b0b0", "gridWidth": 1.5, "gridDash": {"condition": {"test": "datum.value % 6 == 0", "value": []}, "value": [9, 6]}, "tickColor": "black", "tickWidth": 2, "tickSize": {"condition": {"test": "datum.value % 6 == 0", "value": 28}, "value": 0}, "labelExpr": "datum.value == 18 ? ['02/17', '18ʰ'] : datum.value == 24 ? ['02/18', '00ʰ'] : datum.value == 30 ? ['02/18', '06ʰ'] : datum.value == 16 ? '16h' : datum.value == 20 ? '20h' : datum.value == 22 ? '22h' : datum.value == 26 ? '02h' : datum.value == 28 ? '04h' : datum.value == 32 ? '08h' : '10h'", "labelFontSize": {"condition": {"test": "datum.value % 6 == 0", "value": 28}, "value": 19}, "labelPadding": 6, "labelBaseline": "top", "labelLineHeight": 33, "labelOverlap": false, "labelFlush": false, "titleFontSize": 33, "titlePadding": -28}}},
      "layer": [
        {"data": {"name": "spans"}, "transform": [{"filter": "datum.kind == 'obs'"}], "mark": {"type": "rect", "color": "#d62728", "opacity": 0.07}, "encoding": {"x2": {"field": "t2"}}},
        {"data": {"name": "obs"}, "mark": {"type": "rule", "color": "black", "strokeWidth": 2}, "encoding": {}},
        {"data": {"name": "fea"}, "mark": {"type": "line", "interpolate": "step-after", "strokeWidth": 7, "clip": true}, "encoding": {"y": {"field": "v", "type": "quantitative", "title": "FEA Temp", "scale": {"domain": [11.03, 23.91], "nice": false, "zero": false}, "axis": {"values": [12, 14, 16, 18, 20, 22]}}, "color": {"field": "s", "type": "nominal", "title": null, "scale": {"domain": ["2FHTRMZT", "2FRADPYT", "2FEPRATM", "2FE00ATM"], "range": ["#1f77b4", "#ff7f0e", "#2ca02c", "#d62728"]}, "legend": {"legendX": 15, "legendY": 472}}}}
      ]
    }
  ],
  "config": {
    "font": "DejaVu Sans",
    "view": {"stroke": "black", "strokeWidth": 2},
    "axis": {"domain": false, "grid": false, "labelFontSize": 24, "labelColor": "black", "labelPadding": 8, "tickColor": "black", "tickWidth": 2, "tickSize": 28, "titleFontSize": 27, "titleFontWeight": "normal", "titleColor": "black", "titlePadding": 18},
    "legend": {"orient": "none", "fillColor": "rgba(255,255,255,0.8)", "strokeColor": "#cccccc", "strokeWidth": 2, "cornerRadius": 6, "padding": 5, "labelFontSize": 27, "labelColor": "black", "symbolType": "M-2,0L2,0", "symbolSize": 900, "symbolStrokeWidth": 7, "symbolOffset": 15, "labelOffset": 32, "rowPadding": 5}
  }
}
